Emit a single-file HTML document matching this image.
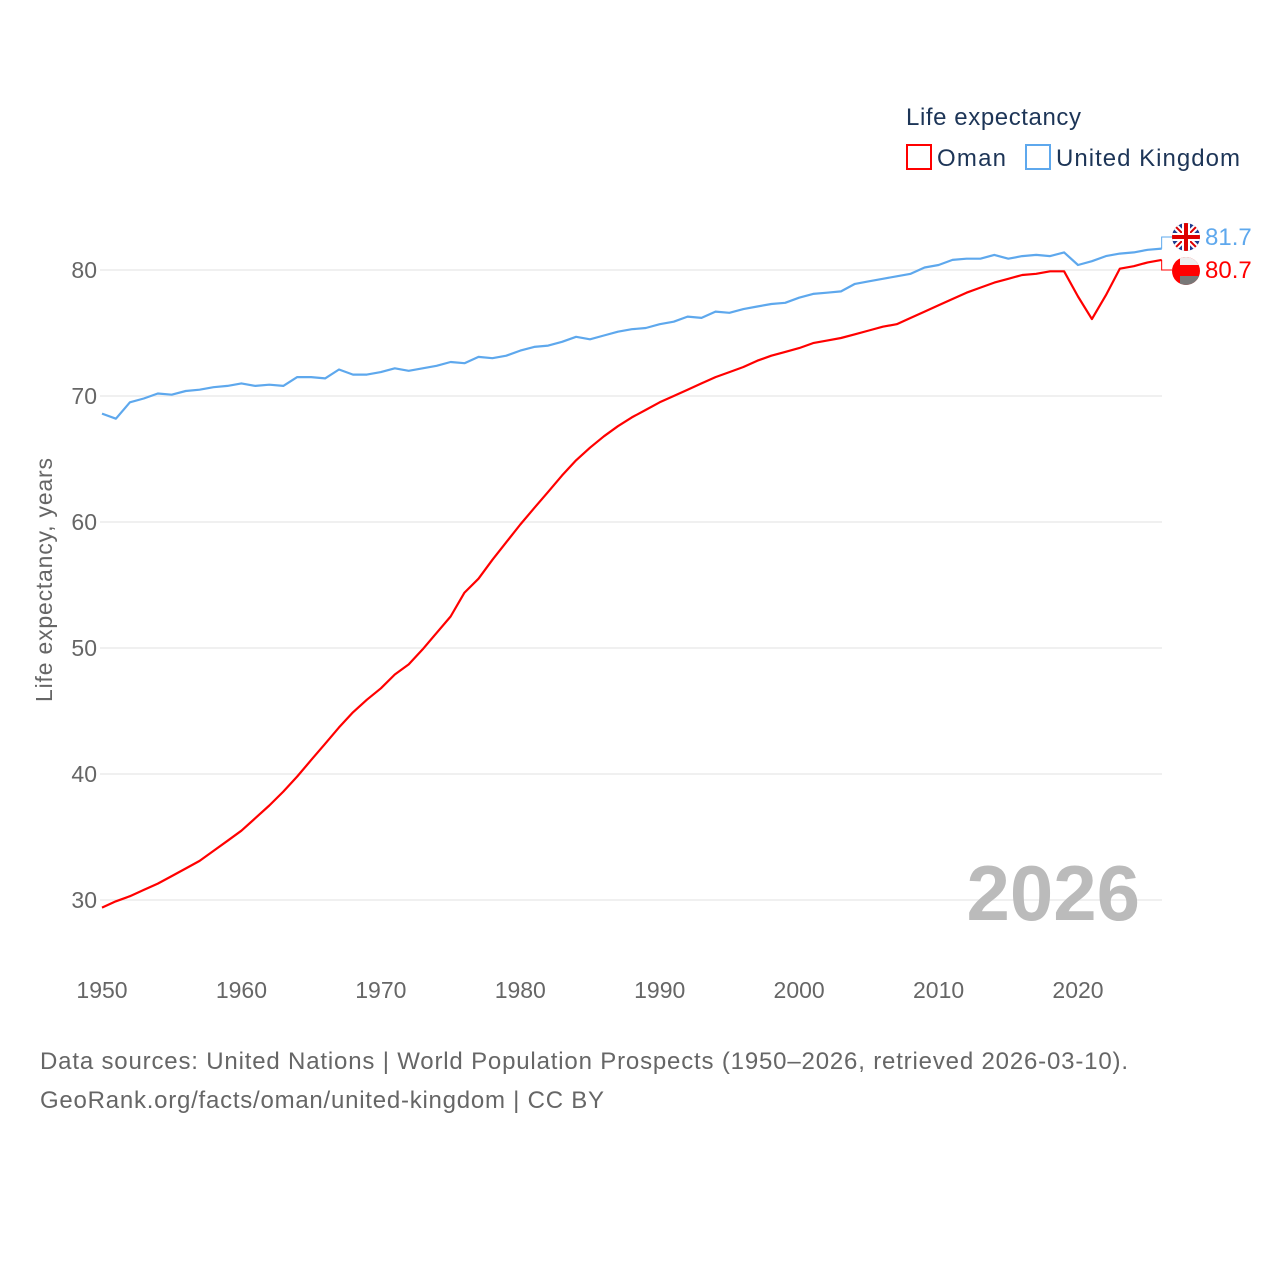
<!DOCTYPE html>
<html><head><meta charset="utf-8">
<style>
html,body{margin:0;padding:0;background:#fff;}
svg{display:block;font-family:"Liberation Sans",sans-serif;}
</style></head>
<body>
<svg id="chart" width="1280" height="1280" viewBox="0 0 1280 1280">
  <g id="grid"></g>
  <g id="yticks"></g>
  <g id="xticks"></g>
  <text x="52" y="580" transform="rotate(-90 52 580)" text-anchor="middle" font-size="23" fill="#666" textLength="244">Life expectancy, years</text>
  <text x="1140" y="920" text-anchor="end" font-size="78" font-weight="bold" fill="#bbb">2026</text>
  <g id="series"></g>
  <g>
    <text x="906" y="125" font-size="24" fill="#1d3557" textLength="175">Life expectancy</text>
    <g>
      <rect x="907" y="145" width="24" height="24" fill="none" stroke="#f00" stroke-width="2"/>
      <text x="937" y="166" font-size="24" fill="#1d3557" textLength="69">Oman</text>
    </g>
    <g>
      <rect x="1026" y="145" width="24" height="24" fill="none" stroke="#5ea8ed" stroke-width="2"/>
      <text x="1056" y="166" font-size="24" fill="#1d3557" textLength="184">United Kingdom</text>
    </g>
  </g>
  <g>
    <clipPath id="c1"><circle cx="1186" cy="237" r="14"/></clipPath>
    <g clip-path="url(#c1)">
      <rect x="1170" y="221" width="32" height="32" fill="#1f3c8f"/>
      <path d="M1170 221 L1202 253 M1202 221 L1170 253" stroke="#fff" stroke-width="6"/>
      <path d="M1170 221 L1202 253 M1202 221 L1170 253" stroke="#d00" stroke-width="2"/>
      <path d="M1186 221 V253 M1170 237 H1202" stroke="#fff" stroke-width="8"/>
      <path d="M1186 221 V253 M1170 237 H1202" stroke="#d00" stroke-width="4"/>
    </g>
  </g>
  <g>
    <clipPath id="c2"><circle cx="1186" cy="271" r="14"/></clipPath>
    <g clip-path="url(#c2)">
      <rect x="1170" y="255" width="32" height="32" fill="#f00"/>
      <rect x="1180" y="255" width="22" height="10" fill="#eee"/>
      <rect x="1180" y="276" width="22" height="11" fill="#777"/>
    </g>
  </g>
  <text x="1205" y="245" font-size="24" fill="#5ea8ed">81.7</text>
  <text x="1205" y="278" font-size="24" fill="#f00">80.7</text>
  <text x="40" y="1069" font-size="24" fill="#666" textLength="1088">Data sources: United Nations | World Population Prospects (1950–2026, retrieved 2026-03-10).</text>
  <text x="40" y="1108" font-size="24" fill="#666" textLength="564">GeoRank.org/facts/oman/united-kingdom | CC BY</text>
</svg>
<script>
const years = [];
for (let y = 1950; y <= 2026; y++) years.push(y);
const ukValues = [68.6,68.2,69.5,69.8,70.2,70.1,70.4,70.5,70.7,70.8,
71.0,70.8,70.9,70.8,71.5,71.5,71.4,72.1,71.7,71.7,
71.9,72.2,72.0,72.2,72.4,72.7,72.6,73.1,73.0,73.2,
73.6,73.9,74.0,74.3,74.7,74.5,74.8,75.1,75.3,75.4,
75.7,75.9,76.3,76.2,76.7,76.6,76.9,77.1,77.3,77.4,
77.8,78.1,78.2,78.3,78.9,79.1,79.3,79.5,79.7,80.2,
80.4,80.8,80.9,80.9,81.2,80.9,81.1,81.2,81.1,81.4,
80.4,80.7,81.1,81.3,81.4,81.6,81.7];
const omanValues = [29.4,29.9,30.3,30.8,31.3,31.9,32.5,33.1,33.9,34.7,
35.5,36.5,37.5,38.6,39.8,41.1,42.4,43.7,44.9,45.9,
46.8,47.9,48.7,49.9,51.2,52.5,54.4,55.5,57.0,58.4,
59.8,61.1,62.4,63.7,64.9,65.9,66.8,67.6,68.3,68.9,
69.5,70.0,70.5,71.0,71.5,71.9,72.3,72.8,73.2,73.5,
73.8,74.2,74.4,74.6,74.9,75.2,75.5,75.7,76.2,76.7,
77.2,77.7,78.2,78.6,79.0,79.3,79.6,79.7,79.9,79.9,
77.9,76.1,78.0,80.1,80.3,80.6,80.8];
const yTicks = [30,40,50,60,70,80];
const xTicks = [1950,1960,1970,1980,1990,2000,2010,2020];

const NS = "http://www.w3.org/2000/svg";
const xs = v => 102 + (v - 1950) * (976 / 70);
const ys = v => 270 - (v - 80) * 12.6;
function mk(tag, attrs, parent) {
  const e = document.createElementNS(NS, tag);
  for (const k in attrs) e.setAttribute(k, attrs[k]);
  parent.appendChild(e);
  return e;
}
const grid = document.getElementById('grid');
const yt = document.getElementById('yticks');
const xt = document.getElementById('xticks');
yTicks.forEach(t => {
  const l = mk('line', {x1: 100, x2: 1162, y1: ys(t), y2: ys(t), stroke: '#ececec', 'stroke-width': 1.5}, grid);
  
  
  const tx = mk('text', {x: 97, y: ys(t) + 8, 'text-anchor': 'end', 'font-size': 23, fill: '#666'}, yt);
  tx.textContent = t;
  
  
});
xTicks.forEach(t => {
  const tx = mk('text', {x: xs(t), y: 998, 'text-anchor': 'middle', 'font-size': 23, fill: '#666'}, xt);
  tx.textContent = t;
  
  
});
const ser = document.getElementById('series');
function line(vals, color, name, labelY) {
  let d = vals.map((v, i) => (i ? 'L' : 'M') + xs(years[i]).toFixed(1) + ' ' + ys(v).toFixed(1)).join(' ');
  const p = mk('path', {d: d, fill: 'none', stroke: color, 'stroke-width': 2.2, 'stroke-linejoin': 'round'}, ser);
  
  
  const lx = xs(years[years.length - 1]);
  const ly = ys(vals[vals.length - 1]);
  const c = mk('path', {d: `M${lx} ${ly} V${labelY} H1172`, fill: 'none', stroke: color, 'stroke-width': 1}, ser);
  
  
}
line(ukValues, '#5ea8ed', 'uk-line', 237);
line(omanValues, '#f00', 'oman-line', 270);
</script>
</body></html>
